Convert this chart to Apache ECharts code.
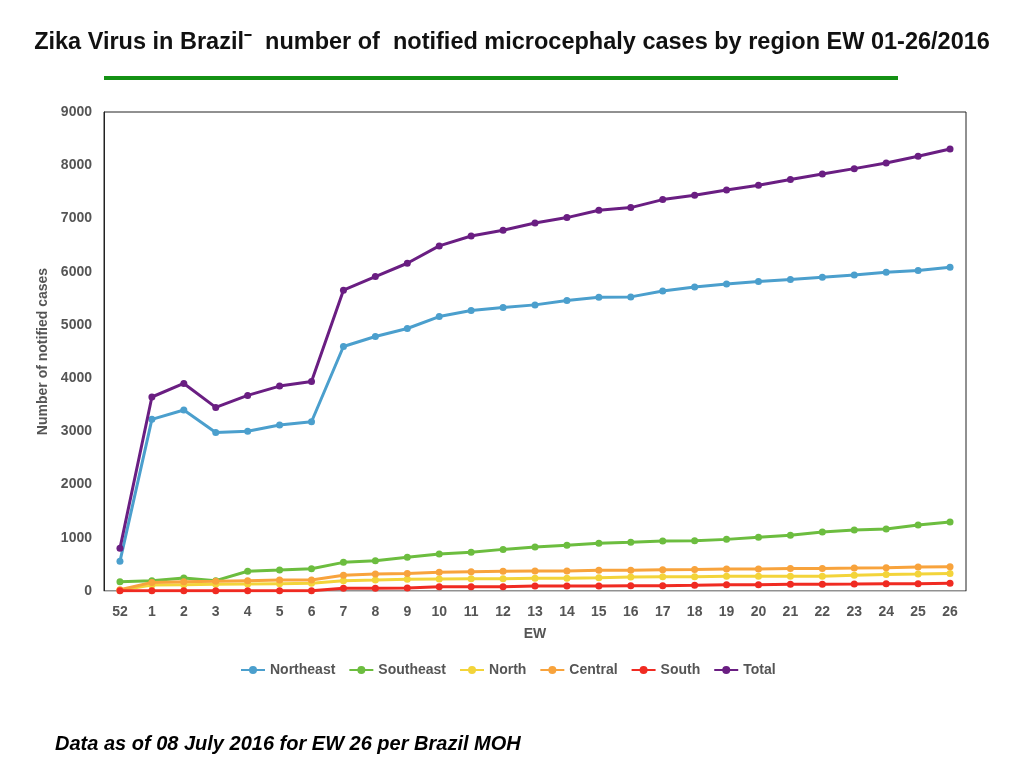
<!DOCTYPE html>
<html>
<head>
<meta charset="utf-8">
<script src="https://cdn.jsdelivr.net/npm/echarts@6/dist/echarts.min.js"></script>
<style>
html,body{margin:0;padding:0;background:#fff;}
#chart{width:1024px;height:768px;}
</style>
</head>
<body>
<div id="chart"></div>
<script>
var weeks = ['52','1','2','3','4','5','6','7','8','9','10','11','12','13','14','15','16','17','18','19','20','21','22','23','24','25','26'];
var northeast = [557,3225,3400,2980,3000,3120,3180,4594,4782,4932,5157,5270,5327,5376,5458,5520,5526,5638,5713,5770,5814,5852,5896,5939,5989,6021,6083];
var southeast = [175,194,244,194,370,394,419,538,569,632,695,726,782,826,858,895,914,939,945,970,1008,1046,1108,1145,1164,1239,1296];
var north = [15,113,119,125,131,138,144,194,206,219,225,231,231,238,238,250,263,269,269,275,275,275,275,294,312,319,331];
var central = [25,162,175,181,194,206,206,294,319,331,350,363,369,375,375,388,388,400,406,413,413,425,425,431,438,450,456];
var south = [3,3,3,3,3,3,3,50,50,56,81,81,81,94,94,94,100,100,106,119,119,125,125,131,138,138,144];
var total = [802,3645,3900,3450,3675,3850,3935,5652,5908,6158,6484,6671,6778,6915,7016,7154,7204,7354,7435,7535,7623,7730,7835,7936,8042,8167,8305];
var seriesNames = ['Northeast','Southeast','North','Central','South','Total'];
var seriesData = [northeast, southeast, north, central, south, total];
var colors = ['#4b9fcd','#6cbd3f','#f3d43a','#f8a33c','#f02b22','#6a1e82'];

var chart = echarts.init(document.getElementById('chart'));
var font = 'Liberation Sans, Arial, sans-serif';
chart.setOption({
  animation: false,
  textStyle: {fontFamily: font},
  title: {
    text: 'Zika Virus in Brazil\u207B  number of  notified microcephaly cases by region EW 01-26/2016',
    left: 'center', top: 26,
    textStyle: {fontFamily: font, fontSize: 23.5, fontWeight: 'bold', color: '#111'}
  },
  graphic: [
    {type: 'rect', shape: {x: 104, y: 76, width: 794, height: 4}, style: {fill: '#149114'}},
    {type: 'text', left: 55, top: 734, style: {text: 'Data as of 08 July 2016 for EW 26 per Brazil MOH', font: 'italic bold 20px Liberation Sans, Arial, sans-serif', fill: '#000'}}
  ],
  legend: {
    data: seriesNames,
    left: 235, top: 658,
    itemWidth: 24, itemHeight: 10, itemGap: 13,
    textStyle: {fontFamily: font, fontSize: 14, fontWeight: 'bold', color: '#555'}
  },
  grid: {left: 104, right: 58, top: 112, bottom: 177, show: true, borderColor: '#222', borderWidth: 1},
  xAxis: {
    type: 'category', data: weeks, boundaryGap: true,
    name: 'EW', nameLocation: 'middle', nameGap: 36,
    nameTextStyle: {fontFamily: font, fontSize: 14, fontWeight: 'bold', color: '#555'},
    axisLine: {lineStyle: {color: '#c8c8c8', width: 1}},
    axisTick: {show: false},
    axisLabel: {fontFamily: font, fontSize: 14, fontWeight: 'bold', color: '#555', margin: 14}
  },
  yAxis: {
    type: 'value', min: 0, max: 9000, interval: 1000,
    name: 'Number of notified cases', nameLocation: 'middle', nameGap: 53, nameRotate: 90,
    nameTextStyle: {fontFamily: font, fontSize: 14, fontWeight: 'bold', color: '#555'},
    axisLine: {show: true, lineStyle: {color: '#222', width: 1}},
    axisTick: {show: false},
    splitLine: {show: false},
    axisLabel: {fontFamily: font, fontSize: 14, fontWeight: 'bold', color: '#555', margin: 12,
      formatter: function (v) { return String(v); }}
  },
  series: seriesNames.map(function (n, i) {
    return {
      name: n, type: 'line', data: seriesData[i],
      symbol: 'circle', symbolSize: 7,
      lineStyle: {width: 3, color: colors[i]},
      itemStyle: {color: colors[i]},
      z: 2 + i
    };
  })
});
</script>
</body>
</html>
